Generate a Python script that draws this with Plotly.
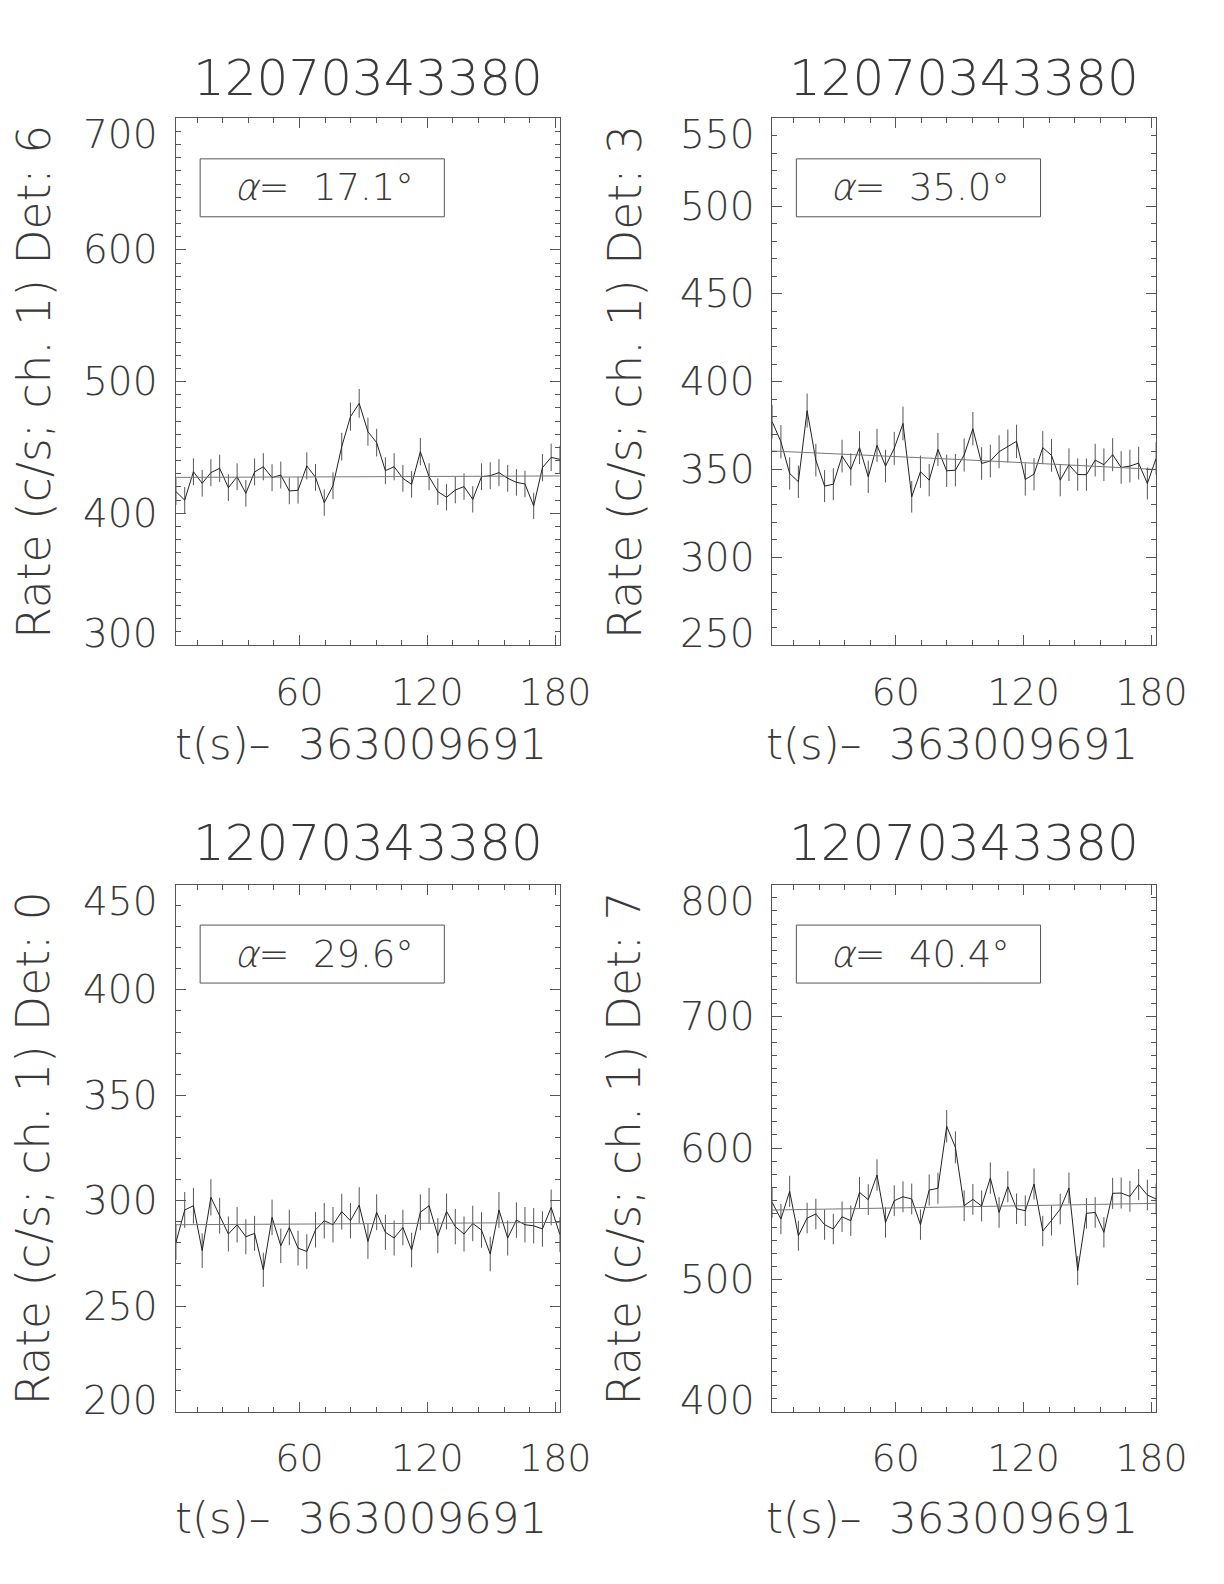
import plotly.graph_objects as go

# ---------------- data ----------------
t = [2.0, 6.1, 10.2, 14.3, 18.4, 22.5, 26.6, 30.7, 34.8, 38.9,
     43.0, 47.1, 51.2, 55.2, 59.3, 63.4, 67.5, 71.6, 75.7, 79.8,
     83.9, 88.0, 92.1, 96.2, 100.3, 104.4, 108.5, 112.6, 116.7, 120.8,
     124.9, 129.0, 133.1, 137.2, 141.3, 145.4, 149.5, 153.6, 157.7, 161.8,
     165.8, 169.9, 174.0, 178.1, 182.2]

rate_det6 = [416.5, 410.0, 431.6, 422.8, 430.9, 434.2, 419.5, 427.8, 415.2, 431.4,
             435.4, 427.1, 429.1, 417.0, 417.5, 436.0, 427.3, 408.1, 421.0, 450.6,
             473.4, 483.5, 462.0, 453.7, 432.4, 435.4, 426.6, 422.0, 446.8, 427.8,
             416.5, 412.2, 417.7, 420.3, 410.6, 427.8, 428.6, 430.9, 426.6, 423.5,
             422.3, 405.6, 434.7, 442.5, 441.0]
err_det6 = [10.1, 10.0, 10.2, 10.1, 10.2, 10.3, 10.1, 10.2, 10.1, 10.2,
            10.3, 10.2, 10.2, 10.1, 10.1, 10.3, 10.2, 10.0, 10.1, 10.5,
            10.7, 10.9, 10.6, 10.5, 10.2, 10.3, 10.2, 10.1, 10.4, 10.2,
            10.1, 10.0, 10.1, 10.1, 10.0, 10.2, 10.2, 10.2, 10.2, 10.1,
            10.1, 10.0, 10.3, 10.4, 10.4]

rate_det3 = [377.2, 365.8, 347.7, 343.0, 383.5, 355.3, 340.5, 341.6, 357.6, 350.0,
             362.4, 345.8, 363.7, 351.9, 362.0, 376.2, 334.4, 348.7, 343.9, 361.4,
             349.2, 349.6, 358.2, 373.2, 353.4, 354.8, 360.1, 363.3, 366.0, 344.3,
             347.3, 362.4, 358.0, 343.9, 352.7, 347.1, 347.0, 355.3, 352.7, 358.4,
             351.1, 351.9, 353.6, 342.0, 356.3]
err_det3 = [9.6, 9.5, 9.2, 9.2, 9.7, 9.3, 9.1, 9.1, 9.3, 9.2,
            9.4, 9.2, 9.4, 9.3, 9.4, 9.6, 9.0, 9.2, 9.2, 9.4,
            9.2, 9.2, 9.4, 9.5, 9.3, 9.3, 9.4, 9.4, 9.5, 9.2,
            9.2, 9.4, 9.3, 9.2, 9.3, 9.2, 9.2, 9.3, 9.3, 9.4,
            9.3, 9.3, 9.3, 9.1, 9.3]

rate_det0 = [280.2, 295.6, 297.6, 276.3, 301.6, 292.9, 284.2, 288.6, 282.9, 284.5,
             267.2, 292.1, 278.6, 287.3, 277.5, 275.9, 286.2, 290.5, 288.6, 294.8,
             290.5, 297.9, 280.7, 294.5, 285.0, 282.3, 287.3, 276.6, 294.5, 297.6,
             283.4, 294.9, 287.7, 284.2, 289.2, 286.1, 274.7, 295.6, 282.3, 290.8,
             288.6, 288.1, 286.6, 296.8, 283.9]
err_det0 = [8.3, 8.5, 8.5, 8.2, 8.6, 8.5, 8.3, 8.4, 8.3, 8.3,
            8.1, 8.4, 8.2, 8.4, 8.2, 8.2, 8.4, 8.4, 8.4, 8.5,
            8.4, 8.5, 8.3, 8.5, 8.3, 8.3, 8.4, 8.2, 8.5, 8.5,
            8.3, 8.5, 8.4, 8.3, 8.4, 8.4, 8.2, 8.5, 8.3, 8.4,
            8.4, 8.4, 8.4, 8.5, 8.3]

rate_det7 = [558.7, 546.1, 567.1, 533.4, 546.8, 549.9, 541.8, 538.5, 547.8, 544.8,
             566.3, 560.8, 579.5, 543.5, 560.0, 563.0, 561.3, 541.8, 568.1, 569.4,
             616.5, 600.5, 556.2, 561.0, 556.0, 577.2, 551.1, 570.6, 553.9, 552.4,
             572.7, 537.0, 545.0, 553.7, 569.6, 507.0, 550.4, 551.1, 536.0, 565.6,
             565.8, 563.3, 572.2, 564.3, 561.3]
err_det7 = [11.7, 11.5, 11.8, 11.4, 11.6, 11.6, 11.5, 11.5, 11.6, 11.5,
            11.8, 11.7, 11.9, 11.5, 11.7, 11.7, 11.7, 11.5, 11.8, 11.8,
            12.3, 12.1, 11.7, 11.7, 11.7, 11.9, 11.6, 11.8, 11.6, 11.6,
            11.8, 11.5, 11.5, 11.6, 11.8, 11.1, 11.6, 11.6, 11.5, 11.8,
            11.8, 11.7, 11.8, 11.7, 11.7]

bg_t = [2.0, 92.1, 182.2]
bg_det6 = [427.3, 427.8, 428.4]
bg_det3 = [360.5, 355.5, 350.0]
bg_det0 = [288.6, 289.1, 289.7]
bg_det7 = [552.9, 555.4, 558.0]

detectors = ["6", "3", "0", "7"]
angles = ["17.1", "35.0", "29.6", "40.4"]
y_ranges = [[300, 700], [250, 550], [200, 450], [400, 800]]
y_dticks = [100, 50, 50, 100]
x_tickvals = [60, 120, 180]
title_text = "12070343380"
xlabel_text = "t(s)\u2013  363009691"

rates = [rate_det6, rate_det3, rate_det0, rate_det7]
errs = [err_det6, err_det3, err_det0, err_det7]
bgs = [bg_det6, bg_det3, bg_det0, bg_det7]

# ---------------- layout ----------------
FONT = "DejaVu Sans ExtraLight, DejaVu Sans Light, DejaVu Sans, sans-serif"
TXT = "#3a3a3a"
AX = "#555555"
# figure sized so the page (with the default 8px body margin) fits the window
FW, FH = 1208, 1566
OFF = 8
XS = 0.974  # horizontal factor observed between page and photograph


def px(X):
    return (X / XS - OFF) / FW


def py(Y):
    return 1 - (Y - OFF) / FH


dom_x = [[px(175.7), px(559.5)], [px(771.7), px(1155.5)]]
dom_y = [[py(645.0), py(118.3)], [py(1411.5), py(884.5)]]
title_y = [py(78), py(843)]
xlab_y = [py(744), py(1518)]
xlab_dx = [px(361) - px(367.6), px(951) - px(963.6)]
ylab_x = [px(34), px(625)]
dom_w = (559.5 - 175.7) / XS

fig = go.Figure()
layout = dict(
    width=FW, height=FH,
    margin=dict(l=0, r=0, t=0, b=0),
    paper_bgcolor="white", plot_bgcolor="white",
    showlegend=False,
    font=dict(family=FONT, color=TXT),
)
annotations = []
shapes = []

for i in range(4):
    r, c = divmod(i, 2)
    n = i + 1
    xa = "x" if n == 1 else f"x{n}"
    ya = "y" if n == 1 else f"y{n}"
    xkey = "xaxis" if n == 1 else f"xaxis{n}"
    ykey = "yaxis" if n == 1 else f"yaxis{n}"

    fig.add_trace(go.Scatter(
        x=t, y=rates[i], mode="lines",
        line=dict(color="#222222", width=1),
        error_y=dict(type="data", array=errs[i], visible=True,
                     color="#555555", thickness=1, width=0),
        xaxis=xa, yaxis=ya, hoverinfo="skip"))
    fig.add_trace(go.Scatter(
        x=bg_t, y=bgs[i], mode="lines",
        line=dict(color="#777777", width=1, shape="spline"),
        xaxis=xa, yaxis=ya, hoverinfo="skip"))

    layout[xkey] = dict(
        domain=dom_x[c], anchor=ya, range=[t[0], t[-1]],
        showgrid=False, zeroline=False,
        showline=True, linecolor=AX, linewidth=1, mirror="allticks",
        ticks="inside", ticklen=10, tickcolor=AX, tickwidth=1,
        tickvals=x_tickvals, ticktext=[str(v) for v in x_tickvals],
        tickfont=dict(family=FONT, size=38, color=TXT),
        ticklabelstandoff=13,
        minor=dict(ticks="inside", ticklen=5, tickcolor=AX, tick0=0, dtick=12),
    )
    layout[ykey] = dict(
        domain=dom_y[r], anchor=xa, range=y_ranges[i],
        showgrid=False, zeroline=False,
        showline=True, linecolor=AX, linewidth=1, mirror="allticks",
        ticks="inside", ticklen=10, tickcolor=AX, tickwidth=1,
        tick0=0, dtick=y_dticks[i], showticklabels=False,
        minor=dict(ticks="inside", ticklen=5, tickcolor=AX, tick0=0, dtick=10),
    )

    # y tick labels (end labels kept inside the axis span, as in the original)
    lo, hi = y_ranges[i]
    v = lo
    while v <= hi:
        if v == hi:
            yanc, ysh = "top", 8
        elif v == lo:
            yanc, ysh = "bottom", -13
        else:
            yanc, ysh = "middle", 0
        annotations.append(dict(text=str(v), x=-17 / dom_w, y=v,
                                xref=f"{xa} domain", yref=ya,
                                showarrow=False, xanchor="right", yanchor=yanc,
                                yshift=ysh,
                                font=dict(family=FONT, size=39, color=TXT)))
        v += y_dticks[i]

    xc = (dom_x[c][0] + dom_x[c][1]) / 2
    yc = (dom_y[r][0] + dom_y[r][1]) / 2
    annotations.append(dict(text=title_text, x=xc, y=title_y[r], xref="paper", yref="paper",
                            showarrow=False, xanchor="center", yanchor="middle",
                            font=dict(family=FONT, size=50, color=TXT)))
    annotations.append(dict(text=xlabel_text, x=xc + xlab_dx[c], y=xlab_y[r],
                            xref="paper", yref="paper",
                            showarrow=False, xanchor="center", yanchor="middle",
                            font=dict(family=FONT, size=43.5, color=TXT)))
    annotations.append(dict(text=f"Rate (c/s; ch. 1) Det: {detectors[i]}",
                            x=ylab_x[c], y=yc, xref="paper", yref="paper",
                            textangle=-90, showarrow=False,
                            xanchor="center", yanchor="middle",
                            font=dict(family=FONT, size=45.5, color=TXT)))
    annotations.append(dict(text=f"<i>\u03b1</i>=  {angles[i]}\u00b0",
                            x=0.385, y=0.868, xref=f"{xa} domain", yref=f"{ya} domain",
                            showarrow=False, xanchor="center", yanchor="middle",
                            font=dict(family=FONT, size=37, color=TXT)))
    shapes.append(dict(type="rect", xref=f"{xa} domain", yref=f"{ya} domain",
                       x0=0.063, x1=0.699, y0=0.813, y1=0.923,
                       line=dict(color=AX, width=1), fillcolor="rgba(0,0,0,0)"))

layout["annotations"] = annotations
layout["shapes"] = shapes
fig.update_layout(**layout)
fig.write_html("out.html")
